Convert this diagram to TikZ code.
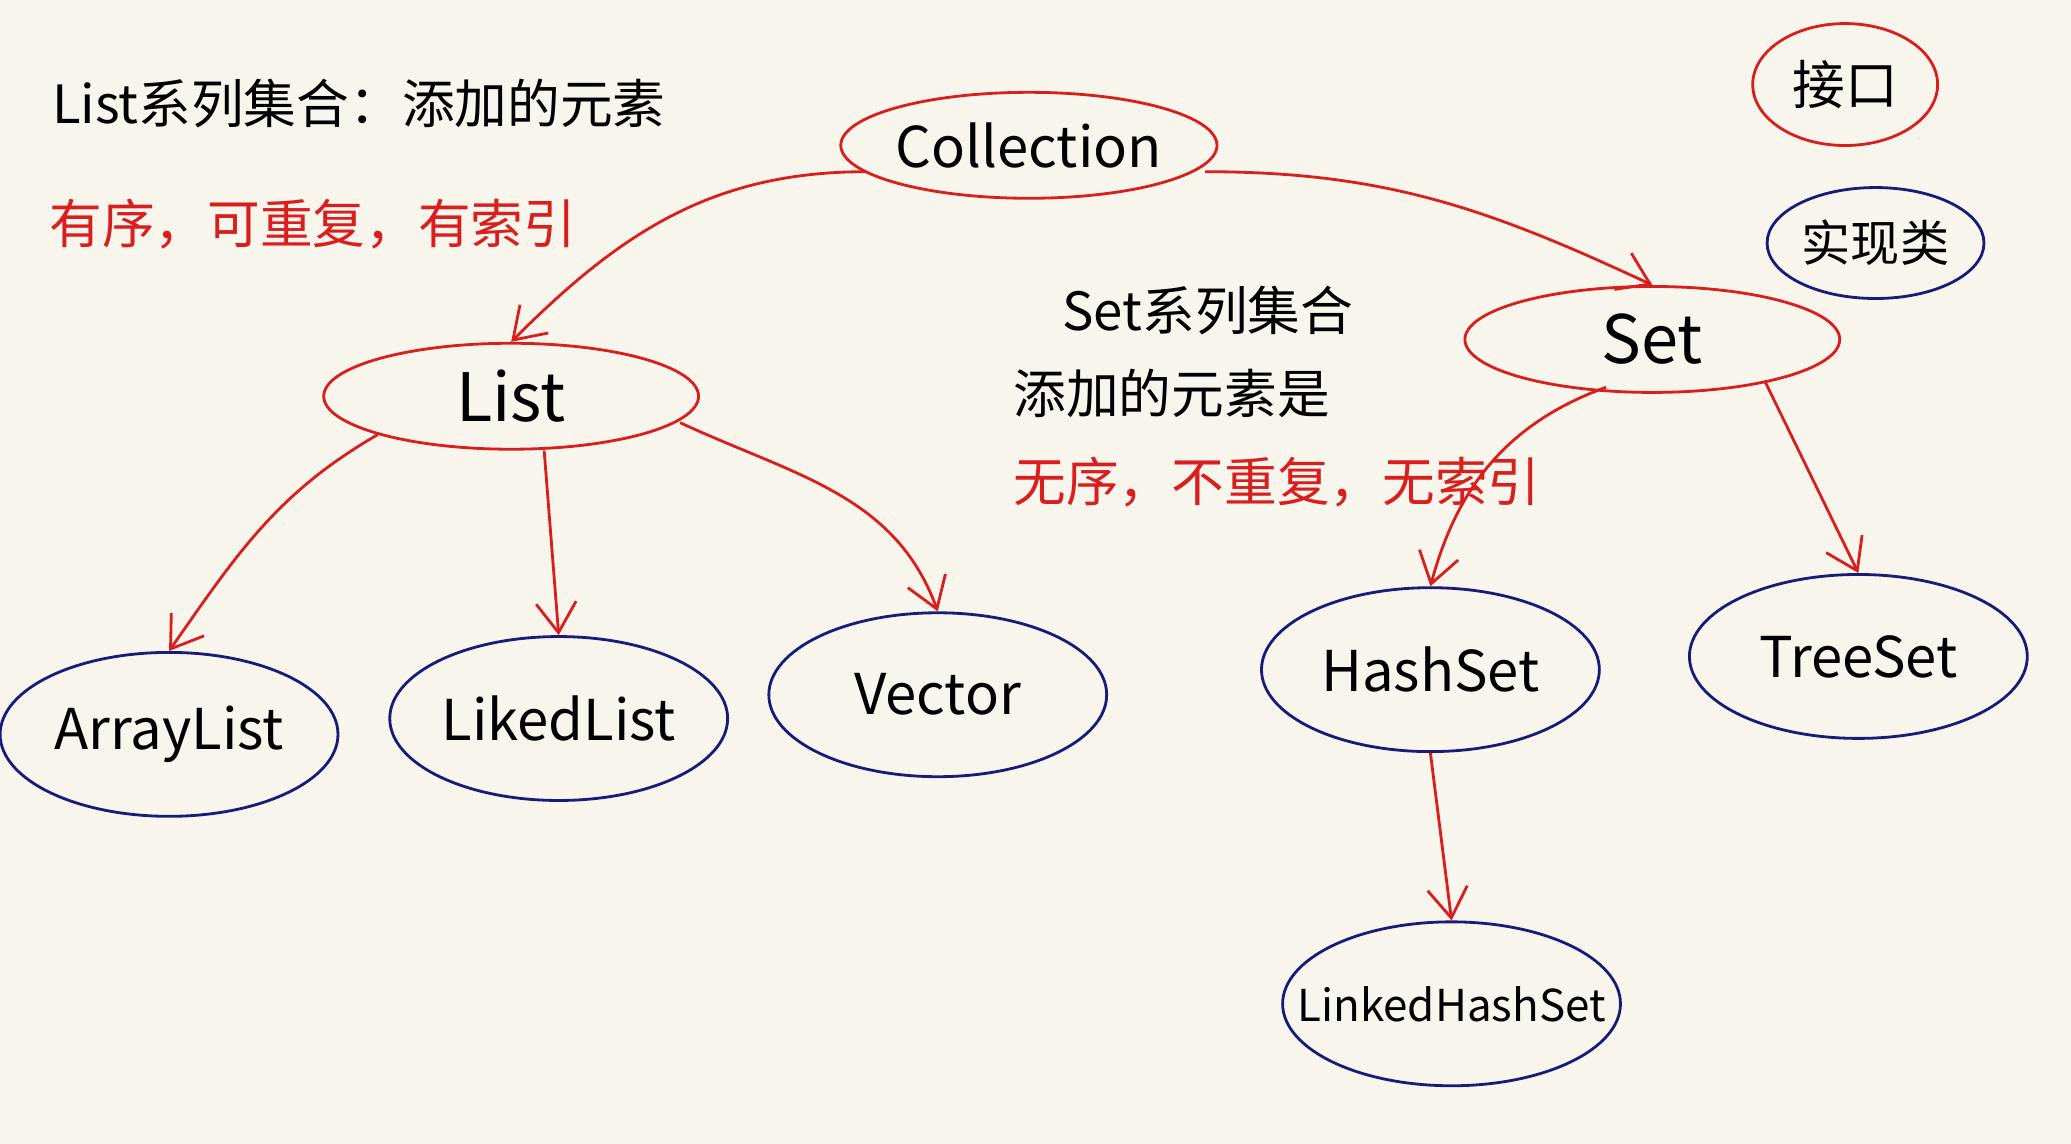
\documentclass[tikz,border=0pt]{standalone}
\usepackage{fontspec}
\setmainfont{Noto Sans CJK SC}
\usetikzlibrary{shapes.geometric,arrows.meta,positioning}
\definecolor{paper}{HTML}{F8F6EC}
\definecolor{inkred}{HTML}{D81E1E}
\definecolor{inkblue}{HTML}{1A1A78}
\tikzset{
  iface/.style={draw=inkred,thick,ellipse,inner sep=0pt,minimum width=3.75cm,minimum height=1.06cm,font=\fontsize{19}{21}\selectfont},
  impl/.style={draw=inkblue,thick,ellipse,inner sep=0pt,minimum width=3.38cm,minimum height=1.64cm,font=\fontsize{16}{18}\selectfont},
  link/.style={draw=inkred,thick,-{Straight Barb[length=3mm,width=4mm]}},
  note/.style={anchor=west,font=\fontsize{15}{17}\selectfont}
}
\begin{document}
\begin{tikzpicture}[x=0.01321cm,y=-0.01321cm]
  \fill[paper] (0,0) rectangle (1568,866);
  \useasboundingbox (0,0) rectangle (1568,866);
  % interfaces
  \node[iface,font=\fontsize{16}{18}\selectfont] (coll) at (779,110) {Collection};
  \node[iface] (list) at (387,300) {List};
  \node[iface] (set) at (1251,257) {Set};
  % legend
  \node[iface,minimum width=1.85cm,minimum height=1.22cm,font=\fontsize{15}{17}\selectfont] (legif) at (1397,64) {接口};
  \node[impl,minimum width=2.17cm,minimum height=1.11cm,font=\fontsize{14}{16}\selectfont] (legim) at (1420,184) {实现类};
  % classes
  \node[impl] (alist) at (128,556) {ArrayList};
  \node[impl] (llist) at (423,544) {LikedList};
  \node[impl] (vec) at (710,526) {Vector};
  \node[impl] (hset) at (1083,507) {HashSet};
  \node[impl] (tset) at (1407,497) {TreeSet};
  \node[impl,inner xsep=-0.6cm,font=\fontsize{12.5}{14}\selectfont] (lhset) at (1099,760) {LinkedHashSet};
  % notes
  \node[note] (ln1) at (30,78) {List系列集合：添加的元素};
  \node[note,text=inkred] (ln2) at (28,170) {有序，可重复，有索引};
  \node[note] (sn1) at (795,235) {Set系列集合};
  \node[note] (sn2) at (758,298) {添加的元素是};
  \node[note,text=inkred] (sn3) at (758,365) {无序，不重复，无索引};
  % connectors
  \draw[link] (coll.west) ++(20,20) to[out=180,in=45] (list.north);
  \draw[link] (coll.east) ++(-10,20) to[out=0,in=155] (set.north);
  \draw[link] (list.south west) to[out=210,in=55] (alist.north);
  \draw[link] (list.south) ++(25,0) -- (llist.north);
  \draw[link] (list.east) ++(-15,20) to[out=-25,in=110] (vec.north);
  \draw[link] (set.south) ++(-35,-5) to[out=200,in=75] (hset.north);
  \draw[link] (set.south) ++(85,-10) -- (tset.north);
  \draw[link] (hset.south) -- (lhset.north);
\end{tikzpicture}
\end{document}
